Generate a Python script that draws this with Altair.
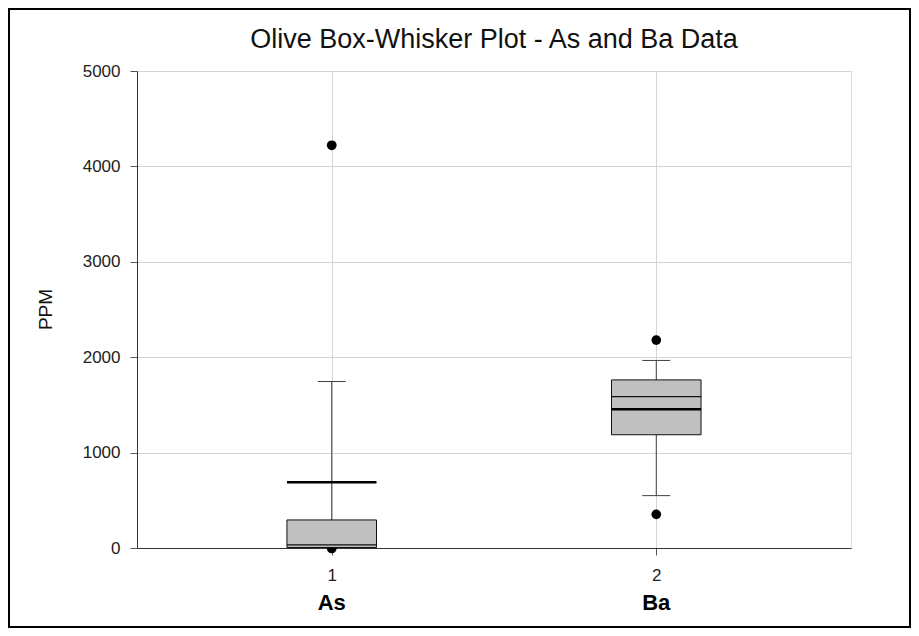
import altair as alt
import pandas as pd

categories = ["As", "Ba"]
positions = [1, 2]
q1 = [5, 1187]
median = [32, 1587]
q3 = [294, 1762]
mean = [689, 1455]
whisker_low = [0, 549]
whisker_high = [1745, 1966]

outlier_pos = [1, 1, 2, 2]
outlier_val = [4221, -5, 2179, 353]

title_text = ["Olive Box-Whisker Plot - As and Ba Data"]

box_half = 0.138
cap_half = 0.043

df = pd.DataFrame({
    "cat": categories, "pos": positions, "q1": q1, "median": median,
    "q3": q3, "mean": mean, "lo": whisker_low, "hi": whisker_high,
})
df_out = pd.DataFrame({"pos": outlier_pos, "val": outlier_val})
df_title = pd.DataFrame({"t": title_text})

FONT = "Liberation Sans"
W, H = 714, 477

xscale = alt.Scale(domain=[0.4, 2.6], nice=False, zero=False)
yscale = alt.Scale(domain=[0, 5000], nice=False)

xaxis = alt.Axis(values=[1, 2], format="d", title=None, grid=True,
                 gridColor="#d4d4d4", tickSize=7, tickColor="#555",
                 domainColor="#333", labelFont=FONT, labelFontSize=17,
                 labelColor="#222", labelPadding=12)
yaxis = alt.Axis(values=[0, 1000, 2000, 3000, 4000, 5000], format="d",
                 title="PPM", grid=True, gridColor="#d4d4d4", tickSize=7,
                 tickColor="#555", domainColor="#333", labelFont=FONT,
                 labelFontSize=17, labelColor="#222", labelPadding=10,
                 titleFont=FONT, titleFontSize=19, titleFontWeight="normal",
                 titleColor="#111", titleAngle=270, titleX=-92, titleY=238,
                 titleAlign="center", titleBaseline="middle")

base = alt.Chart(df)

whisker = base.mark_rule(color="#404040", strokeWidth=1).encode(
    x=alt.X("pos:Q", scale=xscale, axis=xaxis),
    y=alt.Y("lo:Q", scale=yscale, axis=yaxis),
    y2="hi:Q",
)

caps_hi = base.transform_calculate(
    xa=f"datum.pos - {cap_half}", xb=f"datum.pos + {cap_half}"
).mark_rule(color="#404040", strokeWidth=1).encode(
    x=alt.X("xa:Q", scale=xscale), x2="xb:Q",
    y=alt.Y("hi:Q", scale=yscale),
)
caps_lo = base.transform_calculate(
    xa=f"datum.pos - {cap_half}", xb=f"datum.pos + {cap_half}"
).mark_rule(color="#404040", strokeWidth=1).encode(
    x=alt.X("xa:Q", scale=xscale), x2="xb:Q",
    y=alt.Y("lo:Q", scale=yscale),
)

points = alt.Chart(df_out).mark_circle(color="black", opacity=1, size=95).encode(
    x=alt.X("pos:Q", scale=xscale),
    y=alt.Y("val:Q", scale=yscale),
)

box = base.transform_calculate(
    xa=f"datum.pos - {box_half}", xb=f"datum.pos + {box_half}"
).mark_rect(fill="#c0c0c0", stroke="#111", strokeWidth=1).encode(
    x=alt.X("xa:Q", scale=xscale), x2="xb:Q",
    y=alt.Y("q1:Q", scale=yscale), y2="q3:Q",
)

med = base.transform_calculate(
    xa=f"datum.pos - {box_half}", xb=f"datum.pos + {box_half}"
).mark_rule(color="#111", strokeWidth=1.3).encode(
    x=alt.X("xa:Q", scale=xscale), x2="xb:Q",
    y=alt.Y("median:Q", scale=yscale),
)

mn = base.transform_calculate(
    xa=f"datum.pos - {box_half}", xb=f"datum.pos + {box_half}"
).mark_rule(color="black", strokeWidth=2.6).encode(
    x=alt.X("xa:Q", scale=xscale), x2="xb:Q",
    y=alt.Y("mean:Q", scale=yscale),
)

labels = base.mark_text(font=FONT, fontSize=22, fontWeight="bold",
                        color="black", baseline="middle").encode(
    x=alt.X("pos:Q", scale=xscale),
    y=alt.value(H + 55),
    text="cat:N",
)

title = alt.Chart(df_title).mark_text(
    font=FONT, fontSize=27, color="#111", baseline="middle", align="center"
).encode(
    x=alt.value(W / 2), y=alt.value(-31), text="t:N",
)

border = base.mark_rect(fill=None, stroke="black", strokeWidth=2).encode(
    x=alt.value(-128), x2=alt.value(773),
    y=alt.value(-62), y2=alt.value(556),
)

chart = alt.layer(
    whisker, caps_hi, caps_lo, points, box, med, mn, labels, title, border
).properties(
    width=W, height=H,
    autosize=alt.AutoSizeParams(type="none"),
    padding={"left": 129, "top": 63, "right": 60, "bottom": 80},
).configure_view(
    stroke="#333", strokeWidth=1
).configure(background="white")

chart.save("out.html", embed_options={"renderer": "svg", "actions": False})
